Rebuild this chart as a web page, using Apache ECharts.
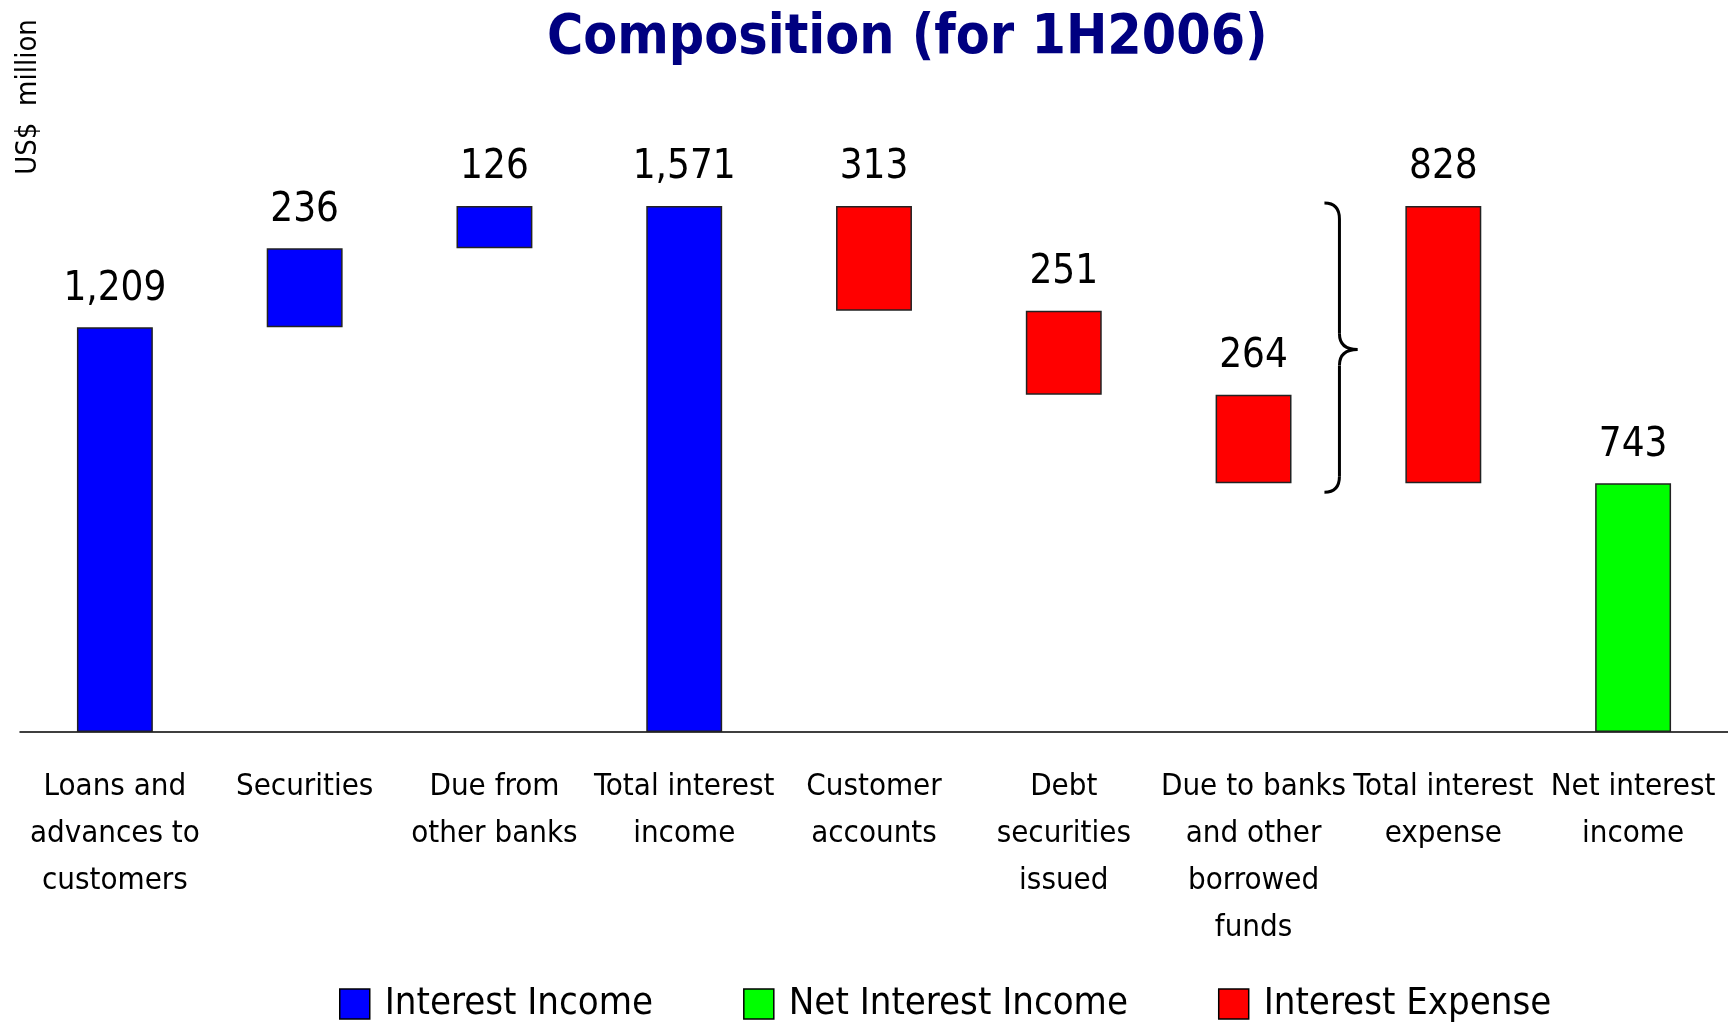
<!DOCTYPE html>
<html>
<head>
<meta charset="utf-8">
<script src="https://cdn.jsdelivr.net/npm/echarts@6/dist/echarts.min.js"></script>
<style>
 html, body { margin: 0; padding: 0; background: #fff; }
 #chart { width: 1728px; height: 1029px; }
</style>
</head>
<body>
<div id="chart"></div>
<script>
const categories = [
 'Loans and\nadvances to\ncustomers',
 'Securities',
 'Due from\nother banks',
 'Total interest\nincome',
 'Customer\naccounts',
 'Debt\nsecurities\nissued',
 'Due to banks\nand other\nborrowed\nfunds',
 'Total interest\nexpense',
 'Net interest\nincome'
]
const values = [1209, 236, 126, 1571, 313, 251, 264, 828, 743]
// income: adds up, expense: goes down from the total
const kinds = ['income', 'income', 'income', 'incomeTotal', 'expense', 'expense', 'expense', 'expenseTotal', 'net']
const legendNames = ['Interest Income', 'Net Interest Income', 'Interest Expense']

const FONT = "'Liberation Sans Narrow', 'DejaVu Sans Condensed', sans-serif"

// waterfall offsets, derived from the values
const bases = []
let running = 0
kinds.forEach((k, i) => {
 const v = values[i]
 if (k === 'income') { bases.push(running); running += v }
 else if (k === 'incomeTotal') { bases.push(0); running = v }
 else if (k === 'expense') { running -= v; bases.push(running) }
 else if (k === 'expenseTotal') bases.push(running)
 else bases.push(0)
})

const pick = test => values.map((v, i) => (test(kinds[i]) ? v : '-'))
const incomeData = pick(k => k === 'income' || k === 'incomeTotal')
const netData = pick(k => k === 'net')
const expenseData = pick(k => k === 'expense' || k === 'expenseTotal')

const chart = echarts.init(document.getElementById('chart'))

const barSeries = (name, data, color) => ({
 name,
 type: 'bar',
 stack: 'w',
 data,
 barWidth: '40%',
 itemStyle: { color, borderColor: '#222', borderWidth: 1.5 },
 label: {
 show: true,
 position: 'top',
 distance: 18,
 color: '#000',
 fontSize: 40,
 fontFamily: FONT,
 formatter: p => p.value.toLocaleString('en-US')
 }
})

chart.setOption({
 backgroundColor: '#fff',
 animation: false,
 title: {
 text: 'Composition (for 1H2006)',
 left: 547,
 top: 11,
 padding: 0,
 textStyle: { color: '#000080', fontSize: 55, fontWeight: 'bold', fontFamily: FONT }
 },
 legend: {
 data: legendNames,
 left: 339,
 top: 985,
 padding: 0,
 icon: 'rect',
 itemWidth: 30,
 itemHeight: 30,
 itemGap: 90,
 itemStyle: { borderColor: '#000', borderWidth: 1.5 },
 textStyle: { color: '#000', fontSize: 38, fontFamily: FONT, padding: [0, 0, 0, 10] }
 },
 grid: { left: 20, right: 0, top: 206, bottom: 297 },
 xAxis: {
 type: 'category',
 data: categories,
 axisLine: { lineStyle: { color: '#000', width: 1.5 } },
 axisTick: { show: false },
 axisLabel: {
 interval: 0,
 margin: 31,
 color: '#000',
 fontSize: 31,
 lineHeight: 47,
 fontFamily: FONT
 }
 },
 yAxis: {
 type: 'value',
 min: 0,
 max: 1571,
 show: false,
 splitLine: { show: false }
 },
 series: [
 {
 name: 'base',
 type: 'bar',
 stack: 'w',
 data: bases,
 barWidth: '40%',
 itemStyle: { color: 'transparent' },
 silent: true
 },
 barSeries(legendNames[0], incomeData, '#0000ff'),
 barSeries(legendNames[1], netData, '#00ff00'),
 barSeries(legendNames[2], expenseData, '#ff0000')
 ]
})

// brace spanning the three expense bars
const pA = chart.convertToPixel({ gridIndex: 0 }, [6, values[3]])
const pB = chart.convertToPixel({ gridIndex: 0 }, [7, values[8]])
const mid = (pA[0] + pB[0]) / 2 - 6
const y0 = pA[1] - 3
const y1 = pB[1] + 9
const yt = (y0 + y1) / 2 + 2
const x0 = mid - 18, xm = mid - 3, xt = mid + 15, r = 16
const braceStyle = { fill: 'none', stroke: '#000', lineWidth: 3 }
const curve = (x1, y1, cx, cy, x2, y2) => ({
 type: 'bezierCurve',
 shape: { x1, y1, cpx1: cx, cpy1: cy, x2, y2 },
 style: braceStyle
})
const seg = (x1, y1, x2, y2) => ({ type: 'line', shape: { x1, y1, x2, y2 }, style: braceStyle })

chart.setOption({
 graphic: [
 curve(x0, y0, xm, y0, xm, y0 + r),
 seg(xm, y0 + r, xm, yt - r),
 curve(xm, yt - r, xm, yt, xt, yt),
 curve(xt, yt, xm, yt, xm, yt + r),
 seg(xm, yt + r, xm, y1 - r),
 curve(xm, y1 - r, xm, y1, x0, y1),
 {
 type: 'text',
 x: 28,
 y: 97,
 rotation: Math.PI / 2,
 style: {
 text: 'US$  million',
 fontSize: 29,
 fontFamily: FONT,
 fill: '#000',
 align: 'center',
 verticalAlign: 'middle'
 }
 }
 ]
})

window.addEventListener('resize', () => chart.resize())
</script>
</body>
</html>
